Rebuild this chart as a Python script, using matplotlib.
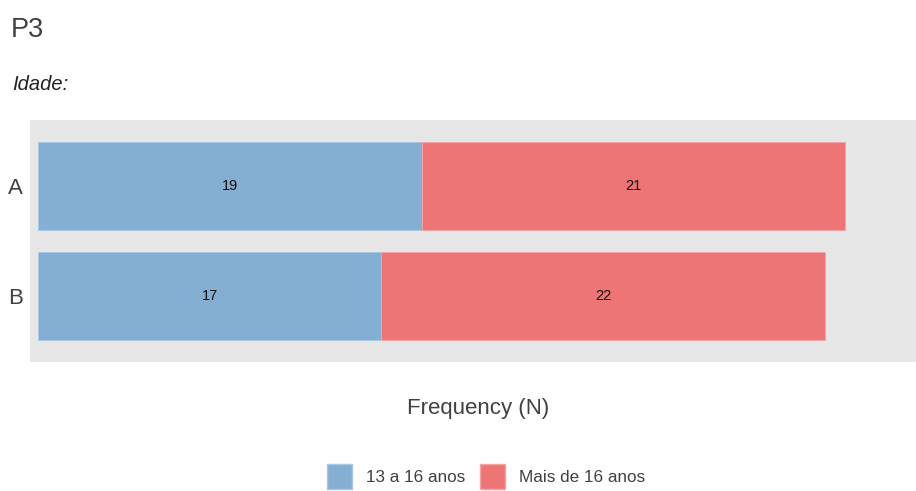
import matplotlib
matplotlib.use("Agg")
import matplotlib.pyplot as plt
from matplotlib.patches import Patch

plt.rcParams['font.family'] = ['Liberation Sans', 'DejaVu Sans']

# data
groups = ['A', 'B']
age_13_16 = [19, 17]
age_over_16 = [21, 22]
series_names = ['13 a 16 anos', 'Mais de 16 anos']

BLUE = '#85AED3'
RED = '#EE7575'
PANEL = '#E6E6E6'
TXT = '#404040'

W, H = 916, 491
fig = plt.figure(figsize=(W / 100, H / 100), dpi=100)

# axes placed by pixel box of the grey panel
ax = fig.add_axes([30 / W, (H - 362) / H, (W - 30) / W, 242 / H])
ax.set_facecolor(PANEL)

b1 = ax.barh(groups, age_13_16, height=0.8, color=BLUE, edgecolor='#A9C6E2', linewidth=0.6)
b2 = ax.barh(groups, age_over_16, left=age_13_16, height=0.8, color=RED,
             edgecolor='#F4A3A3', linewidth=0.6)
ax.bar_label(b1, label_type='center', fontsize=10.5, color='#111111')
ax.bar_label(b2, label_type='center', fontsize=10.5, color='#111111')

ax.set_xlim(-0.4, 43.5)
ax.set_ylim(1.6, -0.6)
ax.set_xticks([])
ax.tick_params(axis='y', length=0, pad=5, labelsize=16, labelcolor=TXT)
for s in ax.spines.values():
    s.set_visible(False)

# titles
fig.text(11 / W, 1 - 37 / H, 'P3', fontsize=19.5, color=TXT, ha='left', va='baseline')
fig.text(12 / W, 1 - 90 / H, 'Idade:', fontsize=14.5, style='italic', color='#222222',
         ha='left', va='baseline')

# axis title
fig.text(478 / W, 1 - 414 / H, 'Frequency (N)', fontsize=16, color=TXT,
         ha='center', va='baseline')

# legend at the bottom
handles = [Patch(facecolor=BLUE, edgecolor='#A9C6E2'), Patch(facecolor=RED, edgecolor='#F4A3A3')]
fig.legend(handles, series_names, loc='upper center', bbox_to_anchor=(486 / W, 1 - 455 / H),
           ncol=2, frameon=False, fontsize=12.3, labelcolor=TXT, borderpad=0,
           handlelength=1.45, handleheight=1.9, handletextpad=0.85, columnspacing=0.85)

fig.savefig('out.png', dpi=100)
